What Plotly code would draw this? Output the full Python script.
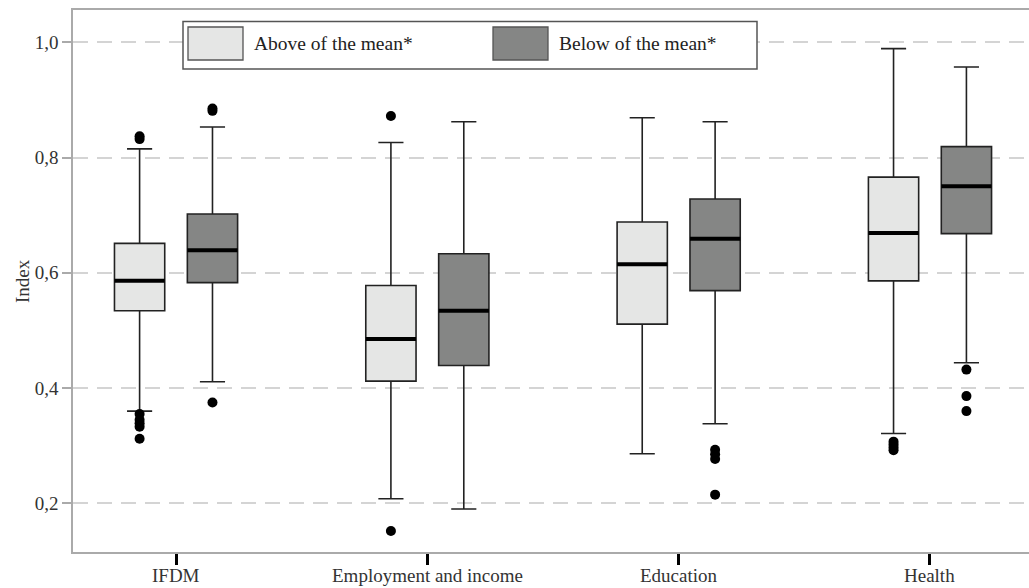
import plotly.graph_objects as go

# Components of the index
categories = ["IFDM", "Employment and income", "Education", "Health"]
groups = ["Above of the mean*", "Below of the mean*"]

# Box statistics per group, one value per category
above_q1 = [0.534, 0.412, 0.511, 0.586]
above_median = [0.586, 0.485, 0.615, 0.669]
above_q3 = [0.651, 0.578, 0.688, 0.766]
above_low = [0.360, 0.208, 0.286, 0.321]
above_high = [0.815, 0.826, 0.869, 0.989]
above_outliers = [
    [0.837, 0.832, 0.355, 0.345, 0.339, 0.333, 0.312],
    [0.872, 0.152],
    [],
    [0.307, 0.302, 0.297, 0.292],
]

below_q1 = [0.583, 0.439, 0.569, 0.668]
below_median = [0.639, 0.534, 0.659, 0.750]
below_q3 = [0.702, 0.633, 0.728, 0.819]
below_low = [0.411, 0.190, 0.338, 0.444]
below_high = [0.853, 0.862, 0.862, 0.957]
below_outliers = [
    [0.885, 0.881, 0.375],
    [],
    [0.293, 0.285, 0.277, 0.215],
    [0.432, 0.386, 0.360],
]

y_ticks = [0.2, 0.4, 0.6, 0.8, 1.0]

FONT = "Liberation Serif"
fills = ["#e5e6e5", "#858685"]
offset = 0.145
box_w = 0.2

series = [
    (above_q1, above_median, above_q3, above_low, above_high, above_outliers),
    (below_q1, below_median, below_q3, below_low, below_high, below_outliers),
]

fig = go.Figure()

for g, (q1, med, q3, lo, hi, outs) in enumerate(series):
    shift = -offset if g == 0 else offset
    xs = [i + shift for i in range(len(categories))]
    fig.add_trace(go.Box(
        x=xs, q1=q1, median=med, q3=q3, lowerfence=lo, upperfence=hi,
        width=box_w, whiskerwidth=0.5, fillcolor=fills[g],
        line=dict(color="#222222", width=1.6),
        boxpoints=False, name=groups[g], showlegend=False,
        hoverinfo="skip",
    ))
    # thick median bars
    mx, my = [], []
    for x, m in zip(xs, med):
        mx += [x - box_w / 2, x + box_w / 2, None]
        my += [m, m, None]
    fig.add_trace(go.Scatter(
        x=mx, y=my, mode="lines", line=dict(color="black", width=4),
        showlegend=False, hoverinfo="skip",
    ))
    # outlying points
    ox, oy = [], []
    for x, pts in zip(xs, outs):
        ox += [x] * len(pts)
        oy += pts
    fig.add_trace(go.Scatter(
        x=ox, y=oy, mode="markers",
        marker=dict(color="black", size=10, symbol="circle"),
        showlegend=False, hoverinfo="skip",
    ))

# plot area in pixels, used to place the hand-drawn legend and labels
L, T, R, B = 73, 10, 1029, 552
W, H = 1029, 588


def px(x):
    return (x - L) / (R - L)


def py(y):
    return (B - y) / (B - T)


shapes = [
    dict(type="rect", xref="paper", yref="paper",
         x0=px(183), x1=px(757), y0=py(69), y1=py(21.5),
         fillcolor="white", line=dict(color="#555555", width=1.5), layer="above"),
    dict(type="rect", xref="paper", yref="paper",
         x0=px(188), x1=px(243), y0=py(60), y1=py(27),
         fillcolor=fills[0], line=dict(color="#555555", width=1.3), layer="above"),
    dict(type="rect", xref="paper", yref="paper",
         x0=px(493), x1=px(548), y0=py(60), y1=py(27),
         fillcolor=fills[1], line=dict(color="#555555", width=1.3), layer="above"),
]

annotations = [
    dict(text=groups[0], xref="paper", yref="paper", x=px(252), y=py(43.5),
         xanchor="left", yanchor="middle", showarrow=False,
         font=dict(family=FONT, size=19.5, color="#222222")),
    dict(text=groups[1], xref="paper", yref="paper", x=px(557), y=py(43.5),
         xanchor="left", yanchor="middle", showarrow=False,
         font=dict(family=FONT, size=19.5, color="#222222")),
    dict(text="Index", xref="paper", yref="paper", x=(22 - L) / (R - L), y=0.5,
         xanchor="center", yanchor="middle", textangle=-90, showarrow=False,
         font=dict(family=FONT, size=19, color="#333333")),
]

# category labels under the x ticks
for i, c in enumerate(categories):
    annotations.append(dict(
        text=c, xref="x", yref="paper", x=i, y=py(575.5),
        xanchor="center", yanchor="middle", showarrow=False, borderpad=0,
        font=dict(family=FONT, size=19, color="#333333"),
    ))

fig.update_layout(
    width=W, height=H,
    margin=dict(l=L, r=W - R, t=T, b=H - B, autoexpand=False),
    paper_bgcolor="white", plot_bgcolor="white",
    separators=",.",
    font=dict(family=FONT, size=19, color="#333333"),
    shapes=shapes, annotations=annotations,
    showlegend=False,
)

fig.update_xaxes(
    range=[-0.41, 3.394],
    tickmode="array", tickvals=list(range(len(categories))),
    showticklabels=False,
    ticks="outside", ticklen=11, tickwidth=3, tickcolor="black",
    showline=True, linecolor="#aaaaaa", linewidth=1.5, mirror=True,
    showgrid=False, zeroline=False,
)

fig.update_yaxes(
    range=[0.1155, 1.056],
    tickmode="array", tickvals=y_ticks, tickformat=".1f",
    ticks="outside", ticklen=9, tickwidth=1.5, tickcolor="#aaaaaa",
    showline=True, linecolor="#aaaaaa", linewidth=1.5, mirror=True,
    showgrid=True, gridcolor="#d4d4d4", gridwidth=1.5, griddash="15px,9px",
    zeroline=False,
    tickfont=dict(family=FONT, size=19, color="#333333"),
)

fig.write_html("out.html")
